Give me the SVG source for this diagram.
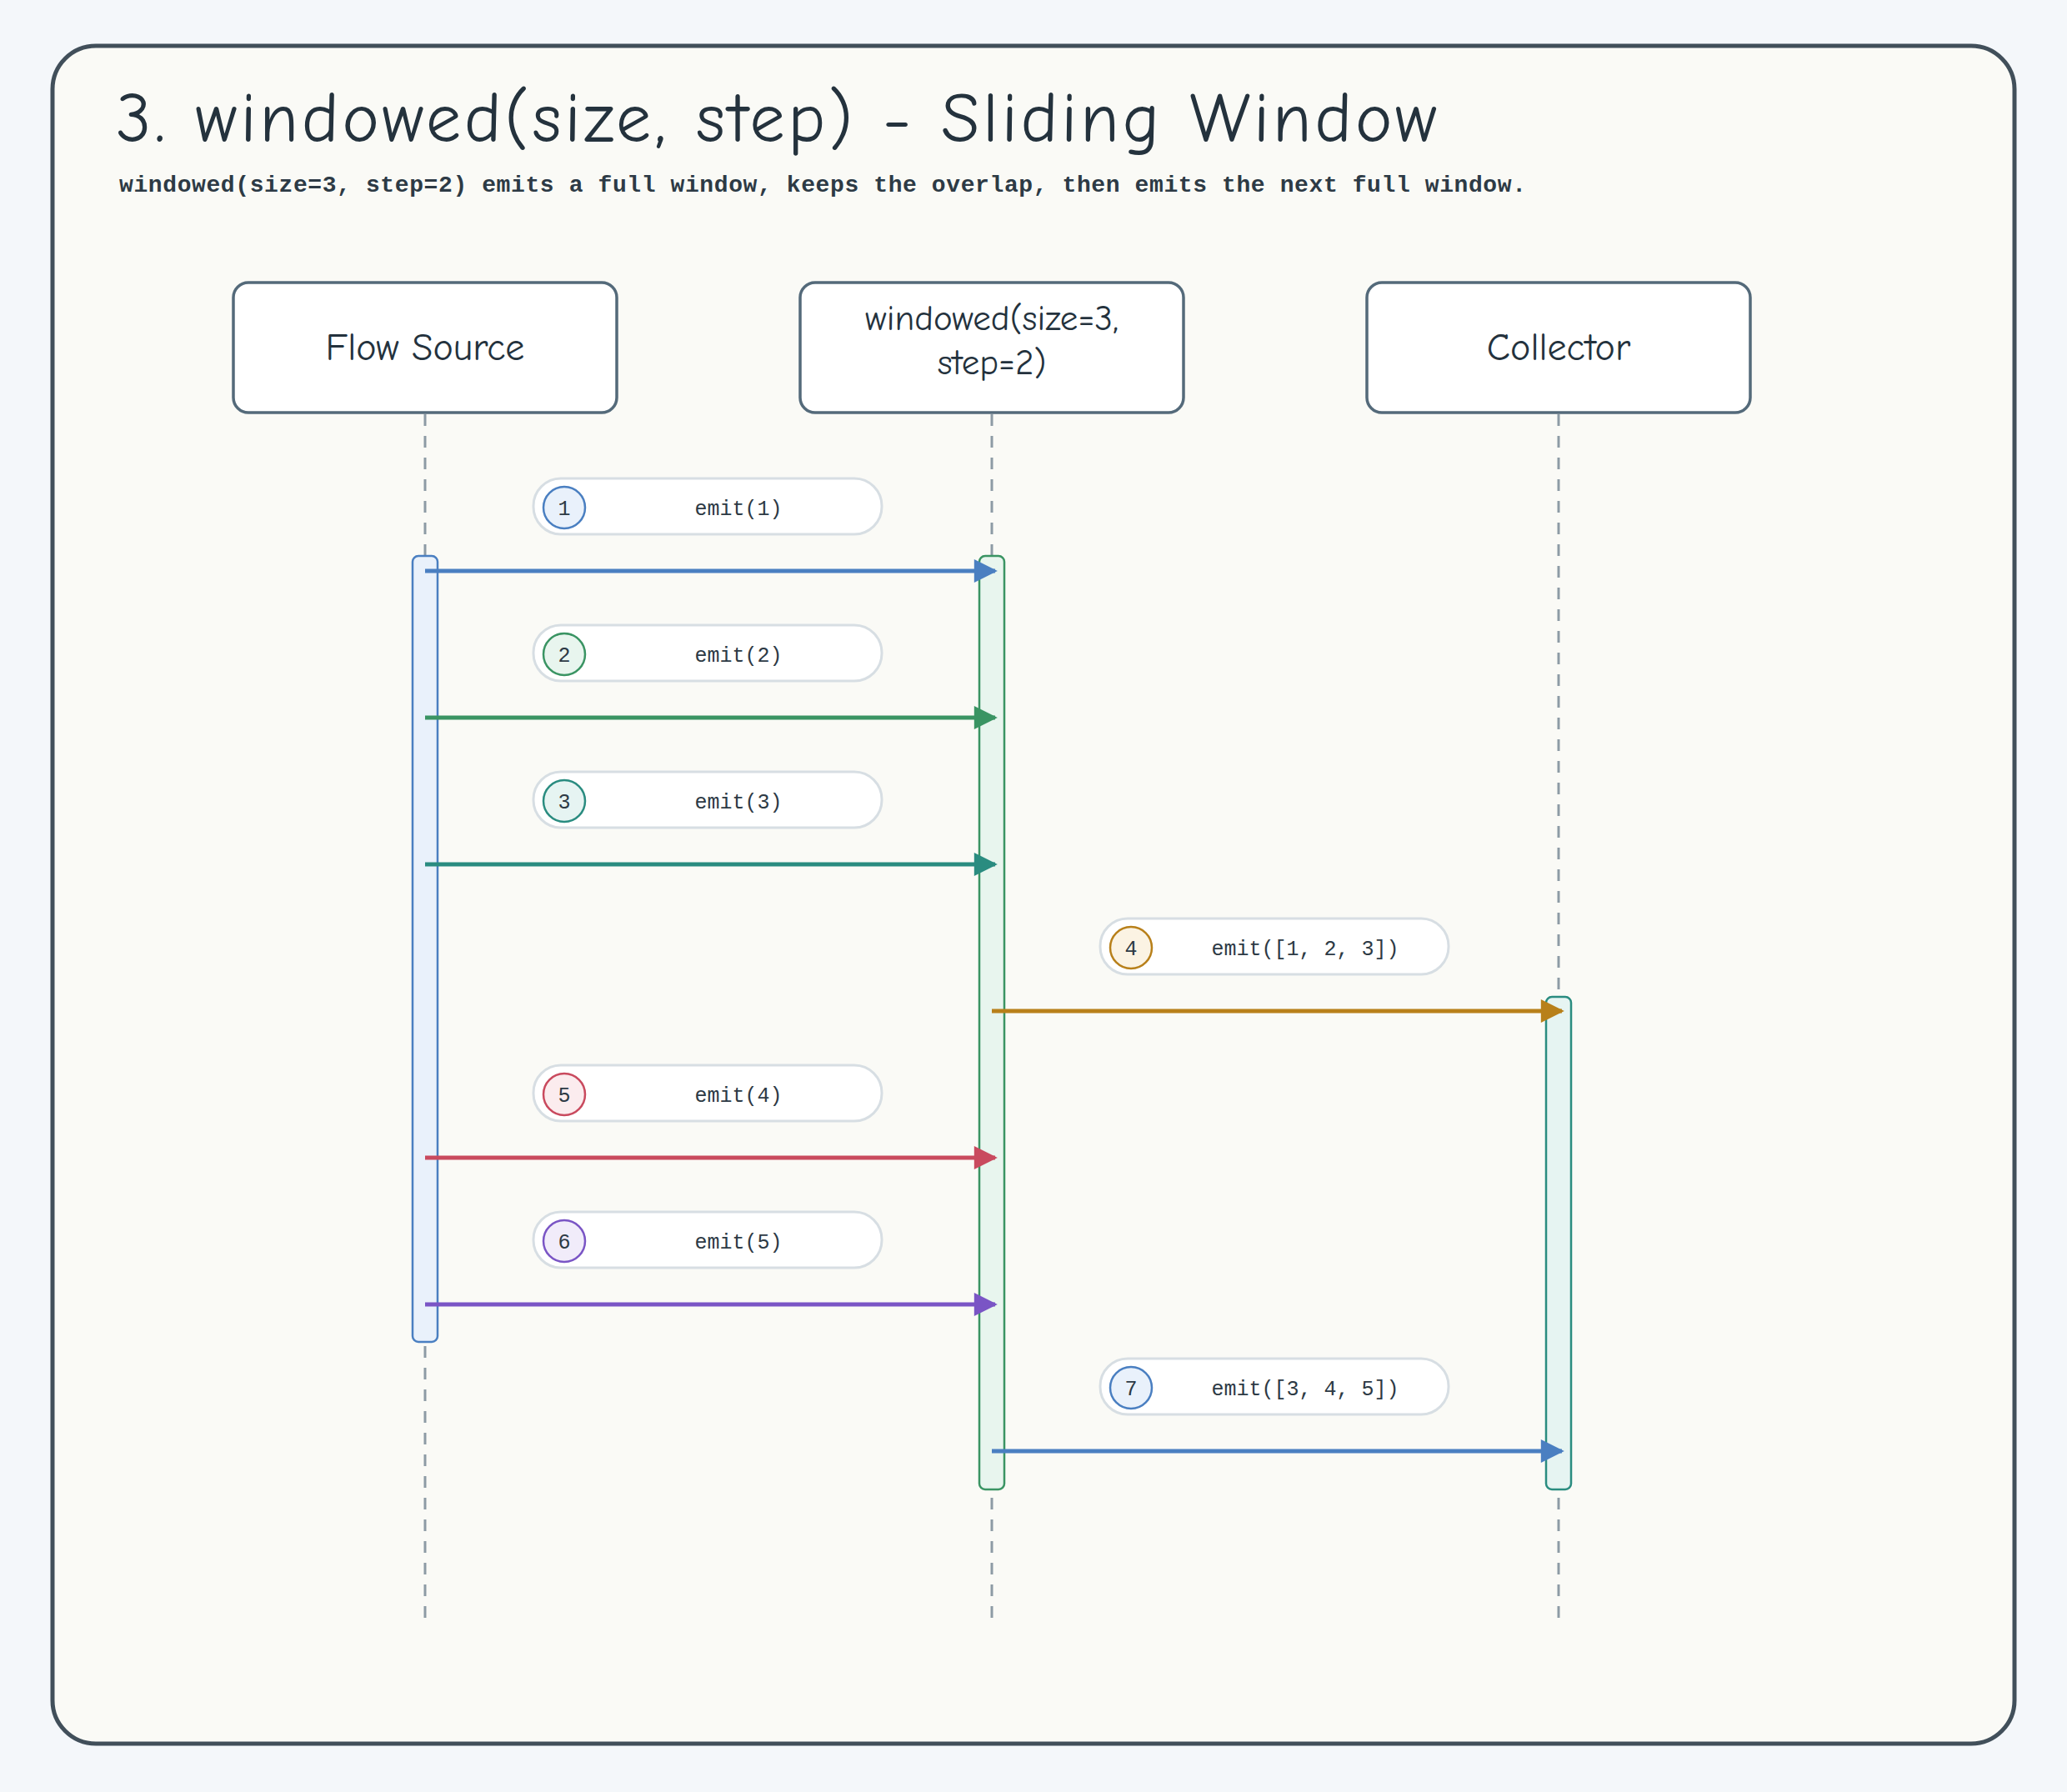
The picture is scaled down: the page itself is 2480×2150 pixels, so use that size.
<svg xmlns="http://www.w3.org/2000/svg" width="2480" height="2150" viewBox="0 0 2480 2150">
<defs>
<style>
.node rect{fill:#fff;stroke:#546a7a;stroke-width:3.5}
.nt{font-family:"Comic Neue","Liberation Sans",sans-serif;font-size:46px;fill:#24323d;text-anchor:middle}
.nt2{font-size:43px}
.life{stroke:#8d9ba5;stroke-width:3;stroke-dasharray:14 12}
.pill{fill:#fff;stroke:#d7dee3;stroke-width:3}
.lt{font-family:"Liberation Mono",monospace;font-size:25px;fill:#2d3a45;text-anchor:middle}
.msg{stroke-width:5;fill:none}
</style>
<marker id="m1" viewBox="0 0 10 10" refX="9" refY="5" markerWidth="30" markerHeight="28" orient="auto" markerUnits="userSpaceOnUse"><path d="M0,0L10,5L0,10z" fill="#4a7fc1"/></marker>
<marker id="m2" viewBox="0 0 10 10" refX="9" refY="5" markerWidth="30" markerHeight="28" orient="auto" markerUnits="userSpaceOnUse"><path d="M0,0L10,5L0,10z" fill="#3a9463"/></marker>
<marker id="m3" viewBox="0 0 10 10" refX="9" refY="5" markerWidth="30" markerHeight="28" orient="auto" markerUnits="userSpaceOnUse"><path d="M0,0L10,5L0,10z" fill="#2a8c80"/></marker>
<marker id="m4" viewBox="0 0 10 10" refX="9" refY="5" markerWidth="30" markerHeight="28" orient="auto" markerUnits="userSpaceOnUse"><path d="M0,0L10,5L0,10z" fill="#b8801a"/></marker>
<marker id="m5" viewBox="0 0 10 10" refX="9" refY="5" markerWidth="30" markerHeight="28" orient="auto" markerUnits="userSpaceOnUse"><path d="M0,0L10,5L0,10z" fill="#c94a5e"/></marker>
<marker id="m6" viewBox="0 0 10 10" refX="9" refY="5" markerWidth="30" markerHeight="28" orient="auto" markerUnits="userSpaceOnUse"><path d="M0,0L10,5L0,10z" fill="#7a55c5"/></marker>
</defs>
<rect width="2480" height="2150" fill="#f4f7fa"/>
<rect x="63" y="55" width="2354" height="2037" rx="52" fill="#fafaf6" stroke="#414f5a" stroke-width="5"/>
<text x="139" y="170" font-family="Comic Neue,Liberation Sans,sans-serif" font-size="84" fill="#24323d" textLength="1585" lengthAdjust="spacing">3. windowed(size, step) - Sliding Window</text>
<text x="143" y="230" font-family="Liberation Mono,monospace" font-size="28" font-weight="600" fill="#2d3a45" textLength="1688">windowed(size=3, step=2) emits a full window, keeps the overlap, then emits the next full window.</text>

<g id="lifelines">
<line class="life" x1="510" y1="497" x2="510" y2="1950"/>
<line class="life" x1="1190" y1="497" x2="1190" y2="1950"/>
<line class="life" x1="1870" y1="497" x2="1870" y2="1950"/>
</g>
<g id="node-source" class="node"><rect x="280" y="339" width="460" height="156" rx="18"/><text class="nt" x="510" y="432">Flow Source</text></g>
<g id="node-windowed" class="node"><rect x="960" y="339" width="460" height="156" rx="18"/><text class="nt nt2" x="1190" y="396">windowed(size=3,</text><text class="nt nt2" x="1190" y="449">step=2)</text></g>
<g id="node-collector" class="node"><rect x="1640" y="339" width="460" height="156" rx="18"/><text class="nt" x="1870" y="432">Collector</text></g>

<g id="activations">
<rect x="495" y="667" width="30" height="943" rx="7" fill="#e9f1fb" stroke="#4a7fc1" stroke-width="2.5"/>
<rect x="1175" y="667" width="30" height="1120" rx="7" fill="#e8f5ee" stroke="#3a9463" stroke-width="2.5"/>
<rect x="1855" y="1196" width="30" height="591" rx="7" fill="#e6f4f2" stroke="#2a8c80" stroke-width="2.5"/>
</g>

<g id="connectors">
<line class="msg" stroke="#4a7fc1" x1="510" y1="685" x2="1194" y2="685" marker-end="url(#m1)"/>
<line class="msg" stroke="#3a9463" x1="510" y1="861" x2="1194" y2="861" marker-end="url(#m2)"/>
<line class="msg" stroke="#2a8c80" x1="510" y1="1037" x2="1194" y2="1037" marker-end="url(#m3)"/>
<line class="msg" stroke="#b8801a" x1="1190" y1="1213" x2="1874" y2="1213" marker-end="url(#m4)"/>
<line class="msg" stroke="#c94a5e" x1="510" y1="1389" x2="1194" y2="1389" marker-end="url(#m5)"/>
<line class="msg" stroke="#7a55c5" x1="510" y1="1565" x2="1194" y2="1565" marker-end="url(#m6)"/>
<line class="msg" stroke="#4a7fc1" x1="1190" y1="1741" x2="1874" y2="1741" marker-end="url(#m1)"/>
</g>

<g id="labels">
<g><rect class="pill" x="640" y="574" width="418" height="67" rx="33"/><circle cx="677" cy="609" r="25" fill="#e9f1fb" stroke="#4a7fc1" stroke-width="2.5"/><text class="lt" x="677" y="618">1</text><text class="lt" x="886" y="618">emit(1)</text></g>
<g><rect class="pill" x="640" y="750" width="418" height="67" rx="33"/><circle cx="677" cy="785" r="25" fill="#e8f5ee" stroke="#3a9463" stroke-width="2.5"/><text class="lt" x="677" y="794">2</text><text class="lt" x="886" y="794">emit(2)</text></g>
<g><rect class="pill" x="640" y="926" width="418" height="67" rx="33"/><circle cx="677" cy="961" r="25" fill="#e6f4f2" stroke="#2a8c80" stroke-width="2.5"/><text class="lt" x="677" y="970">3</text><text class="lt" x="886" y="970">emit(3)</text></g>
<g><rect class="pill" x="1320" y="1102" width="418" height="67" rx="33"/><circle cx="1357" cy="1137" r="25" fill="#fbf3e3" stroke="#b8801a" stroke-width="2.5"/><text class="lt" x="1357" y="1146">4</text><text class="lt" x="1566" y="1146">emit([1, 2, 3])</text></g>
<g><rect class="pill" x="640" y="1278" width="418" height="67" rx="33"/><circle cx="677" cy="1313" r="25" fill="#fbecee" stroke="#c94a5e" stroke-width="2.5"/><text class="lt" x="677" y="1322">5</text><text class="lt" x="886" y="1322">emit(4)</text></g>
<g><rect class="pill" x="640" y="1454" width="418" height="67" rx="33"/><circle cx="677" cy="1489" r="25" fill="#f1ecfa" stroke="#7a55c5" stroke-width="2.5"/><text class="lt" x="677" y="1498">6</text><text class="lt" x="886" y="1498">emit(5)</text></g>
<g><rect class="pill" x="1320" y="1630" width="418" height="67" rx="33"/><circle cx="1357" cy="1665" r="25" fill="#e9f1fb" stroke="#4a7fc1" stroke-width="2.5"/><text class="lt" x="1357" y="1674">7</text><text class="lt" x="1566" y="1674">emit([3, 4, 5])</text></g>
</g>
</svg>
